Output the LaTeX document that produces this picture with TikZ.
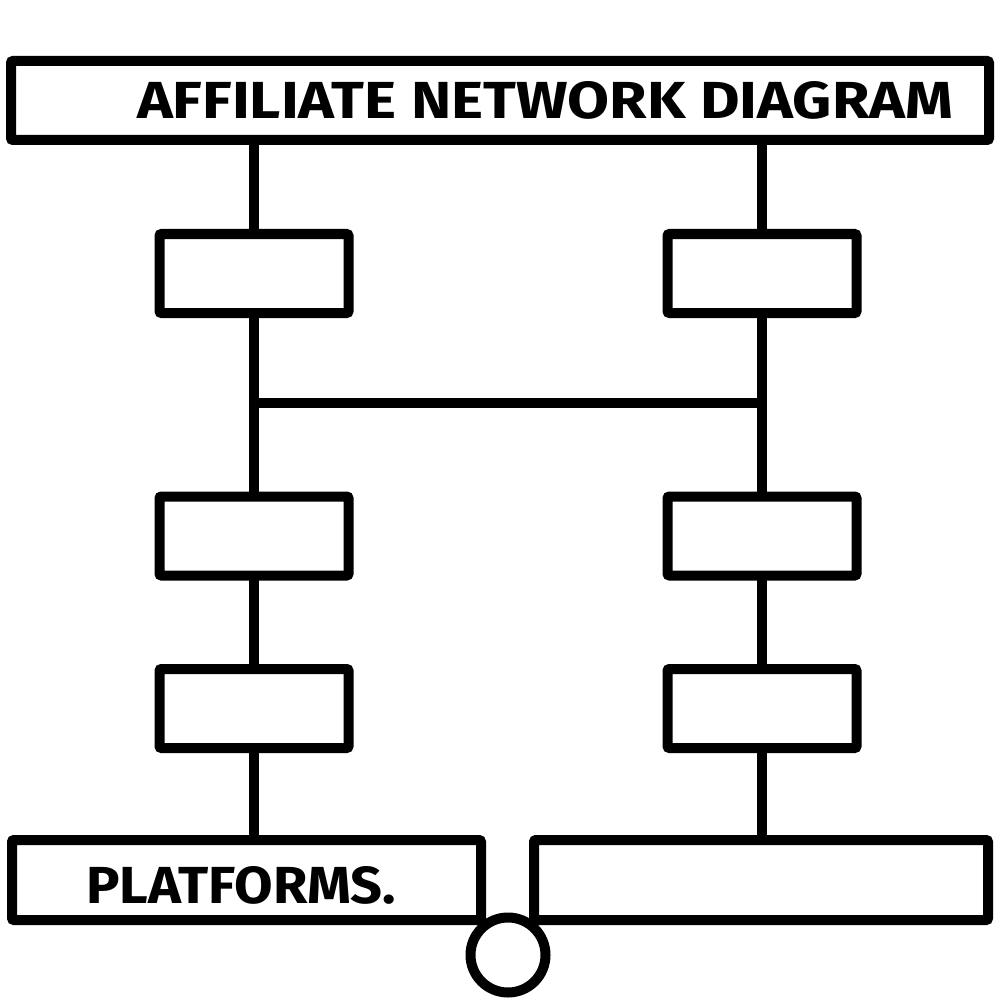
\documentclass[tikz,border=0pt]{standalone}
\usepackage{fontspec}
\setmainfont{Fira Sans}
\usetikzlibrary{calc}
\tikzset{
  box/.style={draw=black, line width=10pt, rounded corners=2pt, fill=white, inner sep=0pt, outer sep=0pt},
  rowbox/.style={box, minimum width=189pt, minimum height=79pt},
  link/.style={draw=black, line width=9.5pt},
  label/.style={inner sep=0pt, outer sep=0pt, anchor=base west, font=\bfseries}
}
\begin{document}
\begin{tikzpicture}[x=1pt, y=-1pt]
\useasboundingbox[fill=white] (0,0) rectangle (1000,1000);
% title
\node[box, minimum width=978pt, minimum height=79pt] (title) at (500,100.5) {};
\node[label] (titletext) at (137,119) {\resizebox{816pt}{37pt}{AFFILIATE NETWORK DIAGRAM}};
% column boxes
\node[rowbox] (l1) at (254,273.5) {};
\node[rowbox] (r1) at (762,273.5) {};
\node[rowbox] (l2) at (254,536) {};
\node[rowbox] (r2) at (762,536) {};
\node[rowbox] (l3) at (254,708.5) {};
\node[rowbox] (r3) at (762,708.5) {};
% bottom boxes
\node[box, minimum width=469pt, minimum height=80pt] (bl) at (246.5,880) {};
\node[box, minimum width=454pt, minimum height=80pt] (br) at (761,880) {};
\node[label] (plattext) at (86,903) {\resizebox{310pt}{37pt}{PLATFORMS.}};
% circle
\node[draw=black, line width=10pt, fill=white, circle, minimum size=75pt, inner sep=0pt] (knob) at (508,955) {};
% connectors
\coordinate (hl) at (254,403);
\coordinate (hr) at (762,403);
\begin{scope}[on background layer/.try]
\end{scope}
\draw[link] (title.south -| l1.north) -- (l1.north);
\draw[link] (title.south -| r1.north) -- (r1.north);
\draw[link] (l1.south) -- (l2.north);
\draw[link] (r1.south) -- (r2.north);
\draw[link] (l2.south) -- (l3.north);
\draw[link] (r2.south) -- (r3.north);
\draw[link] (l3.south) -- (l3.south |- bl.north);
\draw[link] (r3.south) -- (r3.south |- br.north);
\draw[link] (hl) -- (hr);
\end{tikzpicture}
\end{document}
